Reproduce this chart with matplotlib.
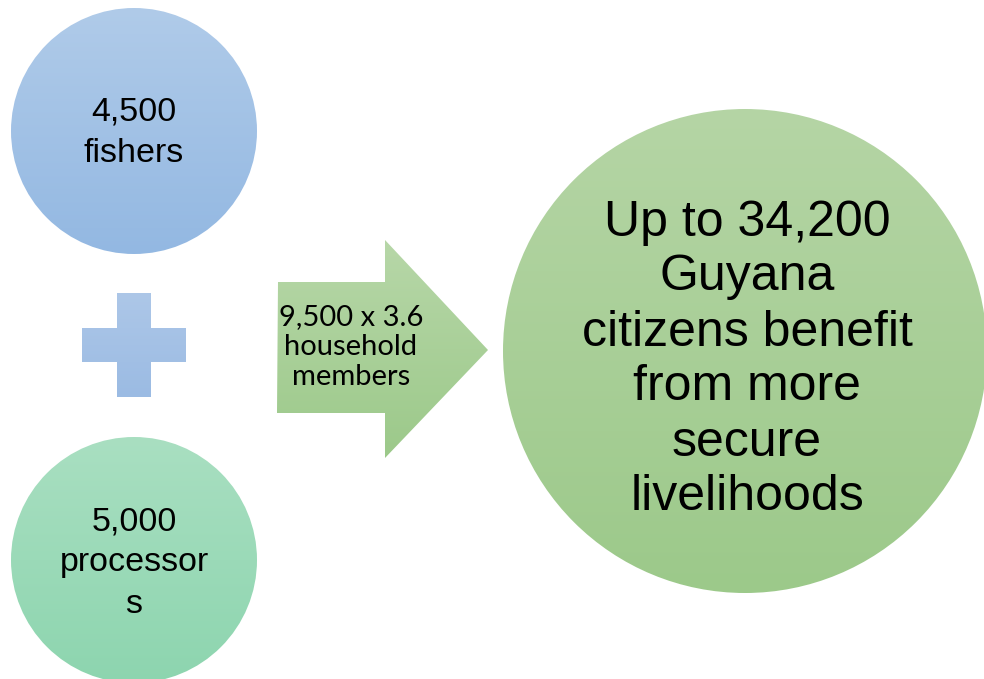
import numpy as np
import matplotlib.pyplot as plt
from matplotlib.colors import to_rgb
from matplotlib.patches import Circle, Polygon

# text content
left_labels = ["4,500\nfishers", "5,000\nprocessor\ns"]
arrow_label = "9,500 x 3.6\nhousehold\nmembers"
result_label = "Up to 34,200\nGuyana\ncitizens benefit\nfrom more\nsecure\nlivelihoods"

# colours (top, bottom of gradient)
blue = ("#b0cbe9", "#93b8e2")
teal = ("#a9dfc1", "#8dd5af")
green = ("#b5d5a5", "#9cc98a")
arrow_green = ("#b7d7a8", "#9cc98a")
plus_blue = ("#adc7e8", "#9bbbe3")


def gradient_fill(ax, patch, top, bottom):
    patch.set_facecolor("none")
    patch.set_edgecolor("none")
    ax.add_patch(patch)
    verts = patch.get_path().transformed(patch.get_patch_transform()).vertices
    xmin, ymin = verts.min(axis=0)
    xmax, ymax = verts.max(axis=0)
    c_top = np.array(to_rgb(top))
    c_bot = np.array(to_rgb(bottom))
    t = np.linspace(0, 1, 256)[:, None]
    img = (c_top * (1 - t) + c_bot * t)[:, None, :]
    im = ax.imshow(img, extent=(xmin, xmax, ymax, ymin), aspect="auto",
                   interpolation="bilinear", zorder=1)
    im.set_clip_path(patch)


fig = plt.figure(figsize=(9.84, 6.79), dpi=100)
ax = fig.add_axes([0, 0, 1, 1])
ax.set_xlim(0, 984)
ax.set_ylim(679, 0)
ax.axis("off")

# left circles
gradient_fill(ax, Circle((134, 131), 123), *blue)
gradient_fill(ax, Circle((134, 560), 123), *teal)

# plus sign
gradient_fill(ax, Polygon([(117, 293), (151, 293), (151, 328), (186, 328), (186, 362),
                           (151, 362), (151, 397), (117, 397), (117, 362), (82, 362),
                           (82, 328), (117, 328)]), *plus_blue)

# arrow
gradient_fill(ax, Polygon([(278, 282), (385, 282), (385, 240), (488, 350),
                           (385, 458), (385, 413), (277, 413)]), *arrow_green)

# big circle
gradient_fill(ax, Circle((745, 351), 242), *green)

ax.text(134, 133, left_labels[0], ha="center", va="center", fontsize=24.5,
        family="Liberation Sans", linespacing=1.42, zorder=3)
ax.text(134, 563, left_labels[1], ha="center", va="center", fontsize=24.5,
        family="Liberation Sans", linespacing=1.42, zorder=3)
ax.text(351, 347, arrow_label, ha="center", va="center", fontsize=21,
        family="Lato", linespacing=1.18, zorder=3)
ax.text(747, 360, result_label, ha="center", va="center", fontsize=36,
        family="Liberation Sans", linespacing=1.25, zorder=3)

fig.savefig("out.png", dpi=100)
